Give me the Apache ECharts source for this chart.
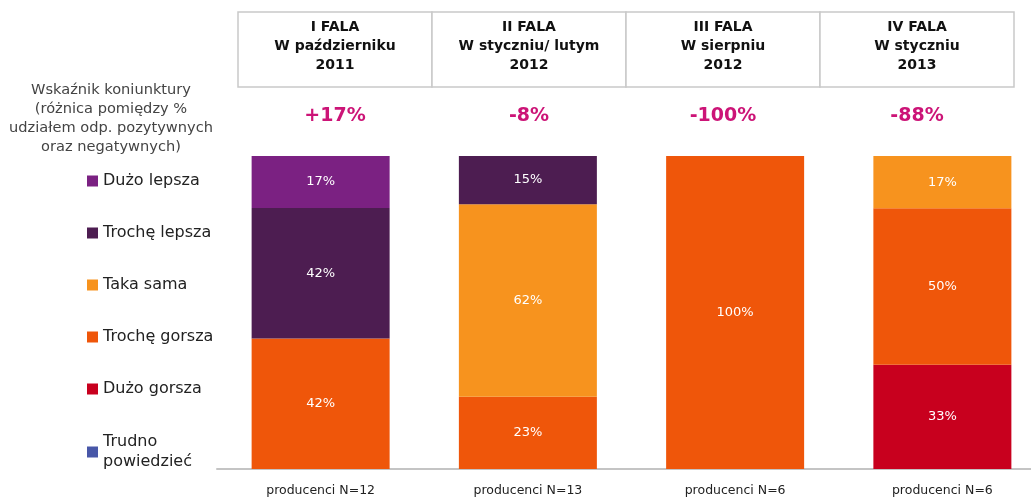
<!DOCTYPE html>
<html>
<head>
<meta charset="utf-8">
<script src="https://cdn.jsdelivr.net/npm/echarts@6/dist/echarts.min.js"></script>
<style>
  html, body { margin: 0; padding: 0; background: #fff; }
  #chart { width: 1031px; height: 497px; }
</style>
</head>
<body>
<div id="chart"></div>
<script type="text/javascript">
// dane
var categories = ['producenci N=12', 'producenci N=13', 'producenci N=6', 'producenci N=6'];
var waves = ['I FALA\nW październiku\n2011', 'II FALA\nW styczniu/ lutym\n2012', 'III FALA\nW sierpniu\n2012', 'IV FALA\nW styczniu\n2013'];
var indicators = ['+17%', '-8%', '-100%', '-88%'];

var trudno = [0, 0, 0, 0];
var duzoGorsza = [0, 0, 0, 33.3];
var trocheGorsza = [41.7, 23.1, 100, 50];
var takaSama = [0, 61.5, 0, 16.7];
var trocheLepsza = [41.7, 15.4, 0, 0];
var duzoLepsza = [16.7, 0, 0, 0];

var chart = echarts.init(document.getElementById('chart'));

var font = 'DejaVu Sans, Verdana, sans-serif';
var colWidth = 194;
var tableLeft = 238;

function makeSeries(name, data, color) {
  return {
    name: name,
    type: 'bar',
    stack: 'total',
    barWidth: 138,
    data: data,
    itemStyle: { color: color },
    label: {
      show: true,
      position: 'inside',
      color: '#fff',
      fontFamily: font,
      fontSize: 13,
      formatter: function (p) { return p.value ? Math.round(p.value) + '%' : ''; }
    }
  };
}

// naglowek tabeli + wskazniki
var graphics = [];
for (var i = 0; i < waves.length; i++) {
  graphics.push({
    type: 'rect',
    shape: { x: tableLeft + i * colWidth, y: 12, width: colWidth, height: 75 },
    style: { fill: '#fff', stroke: '#c9c9c9', lineWidth: 1.5 }
  });
  graphics.push({
    type: 'text',
    x: tableLeft + i * colWidth + colWidth / 2,
    y: 46,
    style: {
      text: waves[i], align: 'center', verticalAlign: 'middle',
      font: 'bold 14px ' + font, lineHeight: 19, fill: '#111'
    }
  });
  graphics.push({
    type: 'text',
    x: tableLeft + i * colWidth + colWidth / 2,
    y: 116,
    style: {
      text: indicators[i], align: 'center', verticalAlign: 'middle',
      font: 'bold 19px ' + font, fill: '#cc1477'
    }
  });
}
graphics.push({
  type: 'text',
  x: 111,
  y: 119,
  style: {
    text: 'Wskaźnik koniunktury\n(różnica pomiędzy %\nudziałem odp. pozytywnych\noraz negatywnych)',
    align: 'center', verticalAlign: 'middle',
    font: '14.6px ' + font, lineHeight: 19, fill: '#444'
  }
});

chart.setOption({
  animation: false,
  backgroundColor: '#fff',
  grid: { left: 217, width: 829, top: 156, bottom: 28, outerBoundsMode: 'none', containLabel: false },
  legend: {
    orient: 'vertical',
    left: 82,
    top: 167,
    itemWidth: 11,
    itemHeight: 11,
    itemGap: 34,
    icon: 'rect',
    selectedMode: false,
    textStyle: { fontFamily: font, fontSize: 16, lineHeight: 18, color: '#222' },
    data: [
      'Dużo lepsza', 'Trochę lepsza', 'Taka sama', 'Trochę gorsza', 'Dużo gorsza',
      { name: 'Trudno powiedzieć', textStyle: { lineHeight: 20 } }
    ],
    formatter: function (name) {
      return name === 'Trudno powiedzieć' ? 'Trudno\npowiedzieć' : name;
    }
  },
  xAxis: {
    type: 'category',
    data: categories,
    axisLine: { lineStyle: { color: '#c4c4c4', width: 2 } },
    axisTick: { show: false },
    axisLabel: { fontFamily: font, fontSize: 12.5, color: '#222', margin: 15 }
  },
  yAxis: { type: 'value', min: 0, max: 100, show: false },
  graphic: graphics,
  series: [
    makeSeries('Trudno powiedzieć', trudno, '#4857a8'),
    makeSeries('Dużo gorsza', duzoGorsza, '#c8001e'),
    makeSeries('Trochę gorsza', trocheGorsza, '#ef560a'),
    makeSeries('Taka sama', takaSama, '#f7931e'),
    makeSeries('Trochę lepsza', trocheLepsza, '#4d1d51'),
    makeSeries('Dużo lepsza', duzoLepsza, '#7b2182')
  ]
});
</script>
</body>
</html>
